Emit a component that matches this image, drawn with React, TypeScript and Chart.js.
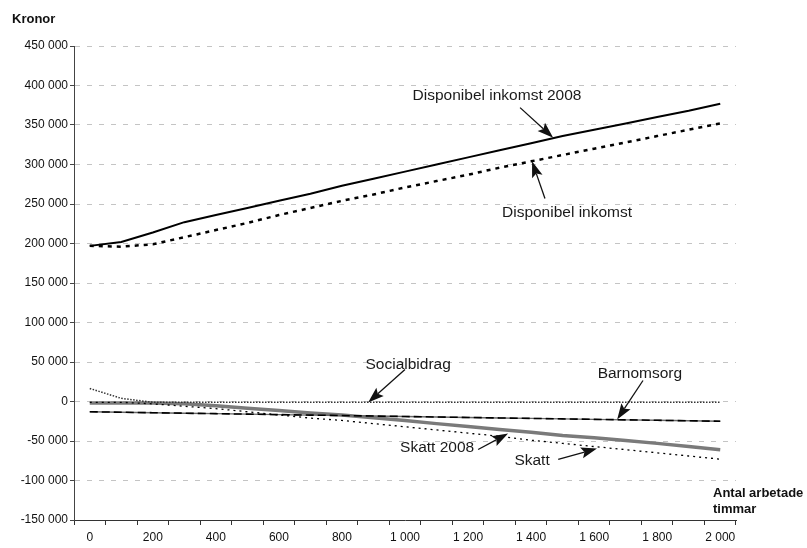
import { useEffect, useRef } from 'react';
import { Chart, registerables } from 'chart.js';

Chart.register(...registerables);

// Categories: working hours per year
const hours = [0, 100, 200, 300, 400, 500, 600, 700, 800, 900, 1000, 1100, 1200, 1300, 1400, 1500, 1600, 1700, 1800, 1900, 2000];

// Series (kronor)
const dispInkomst2008 = [197000, 202000, 214000, 227000, 236000, 245000, 254000, 263000, 273000, 282000, 291000, 300000, 309000, 318000, 327000, 336000, 344000, 352000, 360000, 368000, 377000];
const dispInkomst = [197000, 196000, 199000, 208000, 217000, 226000, 236000, 245000, 254000, 262000, 271000, 279000, 287000, 296000, 304000, 312000, 320000, 328000, 336000, 344000, 352000];
const socialbidrag = [16500, 4000, -1000, -1000, -1000, -1000, -1000, -1000, -1000, -1000, -1000, -1000, -1000, -1000, -1000, -1000, -1000, -1000, -1000, -1000, -1000];
const barnomsorg = [-13000, -13600, -14200, -14800, -15400, -16000, -16600, -17200, -17800, -18400, -19000, -19600, -20200, -20800, -21400, -22000, -22600, -23200, -23800, -24400, -25000];
const barnomsorg2008 = [-13000, -13600, -14200, -14800, -15400, -16000, -16600, -17200, -17800, -18400, -19000, -19600, -20200, -20800, -21400, -22000, -22600, -23200, -23800, -24400, -25000];
const skatt2008 = [-2000, -2000, -2000, -3000, -5500, -8500, -11500, -14500, -17000, -20500, -24000, -28000, -31500, -35500, -39000, -43000, -46000, -49500, -53000, -57000, -61000];
const skatt = [-1000, -1000, -3000, -6000, -9000, -13000, -17000, -21000, -24000, -28000, -32000, -36000, -40000, -44000, -49000, -53000, -57000, -61000, -65000, -69000, -73000];

// Y axis range / step
const yMin = -150000;
const yMax = 450000;
const yStep = 50000;

// Annotations: text position and arrow (tail -> tip), in data units (hours, kronor)
const annotations = [
  { text: 'Disponibel inkomst 2008', tx: 1292, ty: 387000, fx: 1365, fy: 372000, hx: 1470, hy: 334000 },
  { text: 'Disponibel inkomst', tx: 1514, ty: 239000, fx: 1444, fy: 257000, hx: 1403, hy: 304000 },
  { text: 'Socialbidrag', tx: 1010, ty: 47000, fx: 1000, fy: 40500, hx: 883, hy: -1300 },
  { text: 'Barnomsorg', tx: 1745, ty: 35000, fx: 1755, fy: 26600, hx: 1673, hy: -22800 },
  { text: 'Skatt 2008', tx: 1102, ty: -58000, fx: 1232, fy: -60800, hx: 1327, hy: -40500 },
  { text: 'Skatt', tx: 1403, ty: -74700, fx: 1486, fy: -73400, hx: 1609, hy: -59500 },
];

const fmt = (v: number) => {
  const s = String(Math.abs(v)).replace(/\B(?=(\d{3})+(?!\d))/g, ' ');
  return v < 0 ? '-' + s : s;
};

const FONT = '"Liberation Sans", Arial, sans-serif';

const annoPlugin = {
  id: 'annos',
  afterDraw(chart: any) {
    const { ctx, scales } = chart;
    const x = scales.x;
    const y = scales.y;
    const step = hours[1] - hours[0];
    const px = (h: number) => x.getPixelForValue((h - hours[0]) / step);
    ctx.save();
    // titles
    ctx.fillStyle = '#111';
    ctx.font = `bold 13px ${FONT}`;
    ctx.textBaseline = 'middle';
    ctx.textAlign = 'left';
    ctx.fillText('Kronor', 12, 19);
    ctx.fillText('Antal arbetade', 713, 493);
    ctx.fillText('timmar', 713, 509);

    ctx.font = `15.5px ${FONT}`;
    ctx.textAlign = 'center';
    for (const a of annotations) {
      ctx.fillStyle = '#1a1a1a';
      ctx.fillText(a.text, px(a.tx), y.getPixelForValue(a.ty));
      const x0 = px(a.fx), y0 = y.getPixelForValue(a.fy);
      const x1 = px(a.hx), y1 = y.getPixelForValue(a.hy);
      const ang = Math.atan2(y1 - y0, x1 - x0);
      const len = 16, hw = 5.5, notch = 3;
      const bx = x1 - Math.cos(ang) * len, by = y1 - Math.sin(ang) * len;
      ctx.strokeStyle = '#111';
      ctx.lineWidth = 1.3;
      ctx.beginPath();
      ctx.moveTo(x0, y0);
      ctx.lineTo(bx + Math.cos(ang) * notch, by + Math.sin(ang) * notch);
      ctx.stroke();
      ctx.fillStyle = '#111';
      ctx.beginPath();
      ctx.moveTo(x1, y1);
      ctx.lineTo(bx - Math.sin(ang) * hw, by + Math.cos(ang) * hw);
      ctx.lineTo(bx + Math.cos(ang) * notch, by + Math.sin(ang) * notch);
      ctx.lineTo(bx + Math.sin(ang) * hw, by - Math.cos(ang) * hw);
      ctx.closePath();
      ctx.fill();
    }
    ctx.restore();
  },
};

export default function App() {
  const ref = useRef<HTMLCanvasElement>(null);
  useEffect(() => {
    if (!ref.current) return;
    const chart = new Chart(ref.current, {
      type: 'line',
      data: {
        labels: hours.map(String),
        datasets: [
          { label: 'Disponibel inkomst 2008', data: dispInkomst2008, borderColor: '#000', borderWidth: 2, pointRadius: 0, order: 1 },
          { label: 'Disponibel inkomst', data: dispInkomst, borderColor: '#000', borderWidth: 2.5, borderDash: [4, 5], pointRadius: 0, order: 2 },
          { label: 'Socialbidrag', data: socialbidrag, borderColor: '#333', borderWidth: 1.5, borderDash: [1.5, 1.5], pointRadius: 0, order: 3 },
          { label: 'Barnomsorg', data: barnomsorg, borderColor: '#000', borderWidth: 1.6, borderDash: [8, 4], pointRadius: 0, order: 4 },
          { label: 'Skatt', data: skatt, borderColor: '#000', borderWidth: 1.3, borderDash: [2, 4], pointRadius: 0, order: 5 },
          { label: 'Barnomsorg 2008', data: barnomsorg2008, borderColor: '#666', borderWidth: 1.4, pointRadius: 0, order: 6 },
          { label: 'Skatt 2008', data: skatt2008, borderColor: '#7a7a7a', borderWidth: 3.5, pointRadius: 0, order: 7 },
        ],
      },
      options: {
        responsive: false,
        animation: false,
        devicePixelRatio: 1,
        layout: { padding: { top: 46, right: 71, bottom: 0, left: 0 } },
        plugins: { legend: { display: false }, tooltip: { enabled: false } },
        elements: { line: { tension: 0 } },
        scales: {
          x: {
            type: 'category',
            offset: true,
            afterFit: (s: any) => { s.height = 28; },
            grid: { offset: true, drawOnChartArea: false, drawTicks: true, tickLength: 5, tickColor: '#333' },
            border: { display: true, color: '#333', width: 1 },
            ticks: {
              autoSkip: false,
              maxRotation: 0,
              padding: 5,
              color: '#111',
              font: { family: FONT, size: 12 },
              callback: (_v: any, i: number) => (i % 2 === 0 ? fmt(hours[i]) : ''),
            },
          },
          y: {
            min: yMin,
            max: yMax,
            afterFit: (s: any) => { s.width = 74; },
            grid: { color: '#c4c4c4', tickLength: 4, tickColor: '#444', tickBorderDash: [] },
            border: { display: true, color: '#444', width: 1, dash: [5, 7] },
            ticks: {
              stepSize: yStep,
              padding: 2,
              color: '#111',
              font: { family: FONT, size: 12 },
              callback: (v: any) => fmt(Number(v)),
            },
          },
        },
      },
      plugins: [annoPlugin],
    });
    return () => chart.destroy();
  }, []);
  return (
    <div style={{ position: 'absolute', left: 0, top: 0, width: 807, height: 548 }}>
      <canvas ref={ref} width={807} height={548} style={{ width: 807, height: 548 }} />
    </div>
  );
}
